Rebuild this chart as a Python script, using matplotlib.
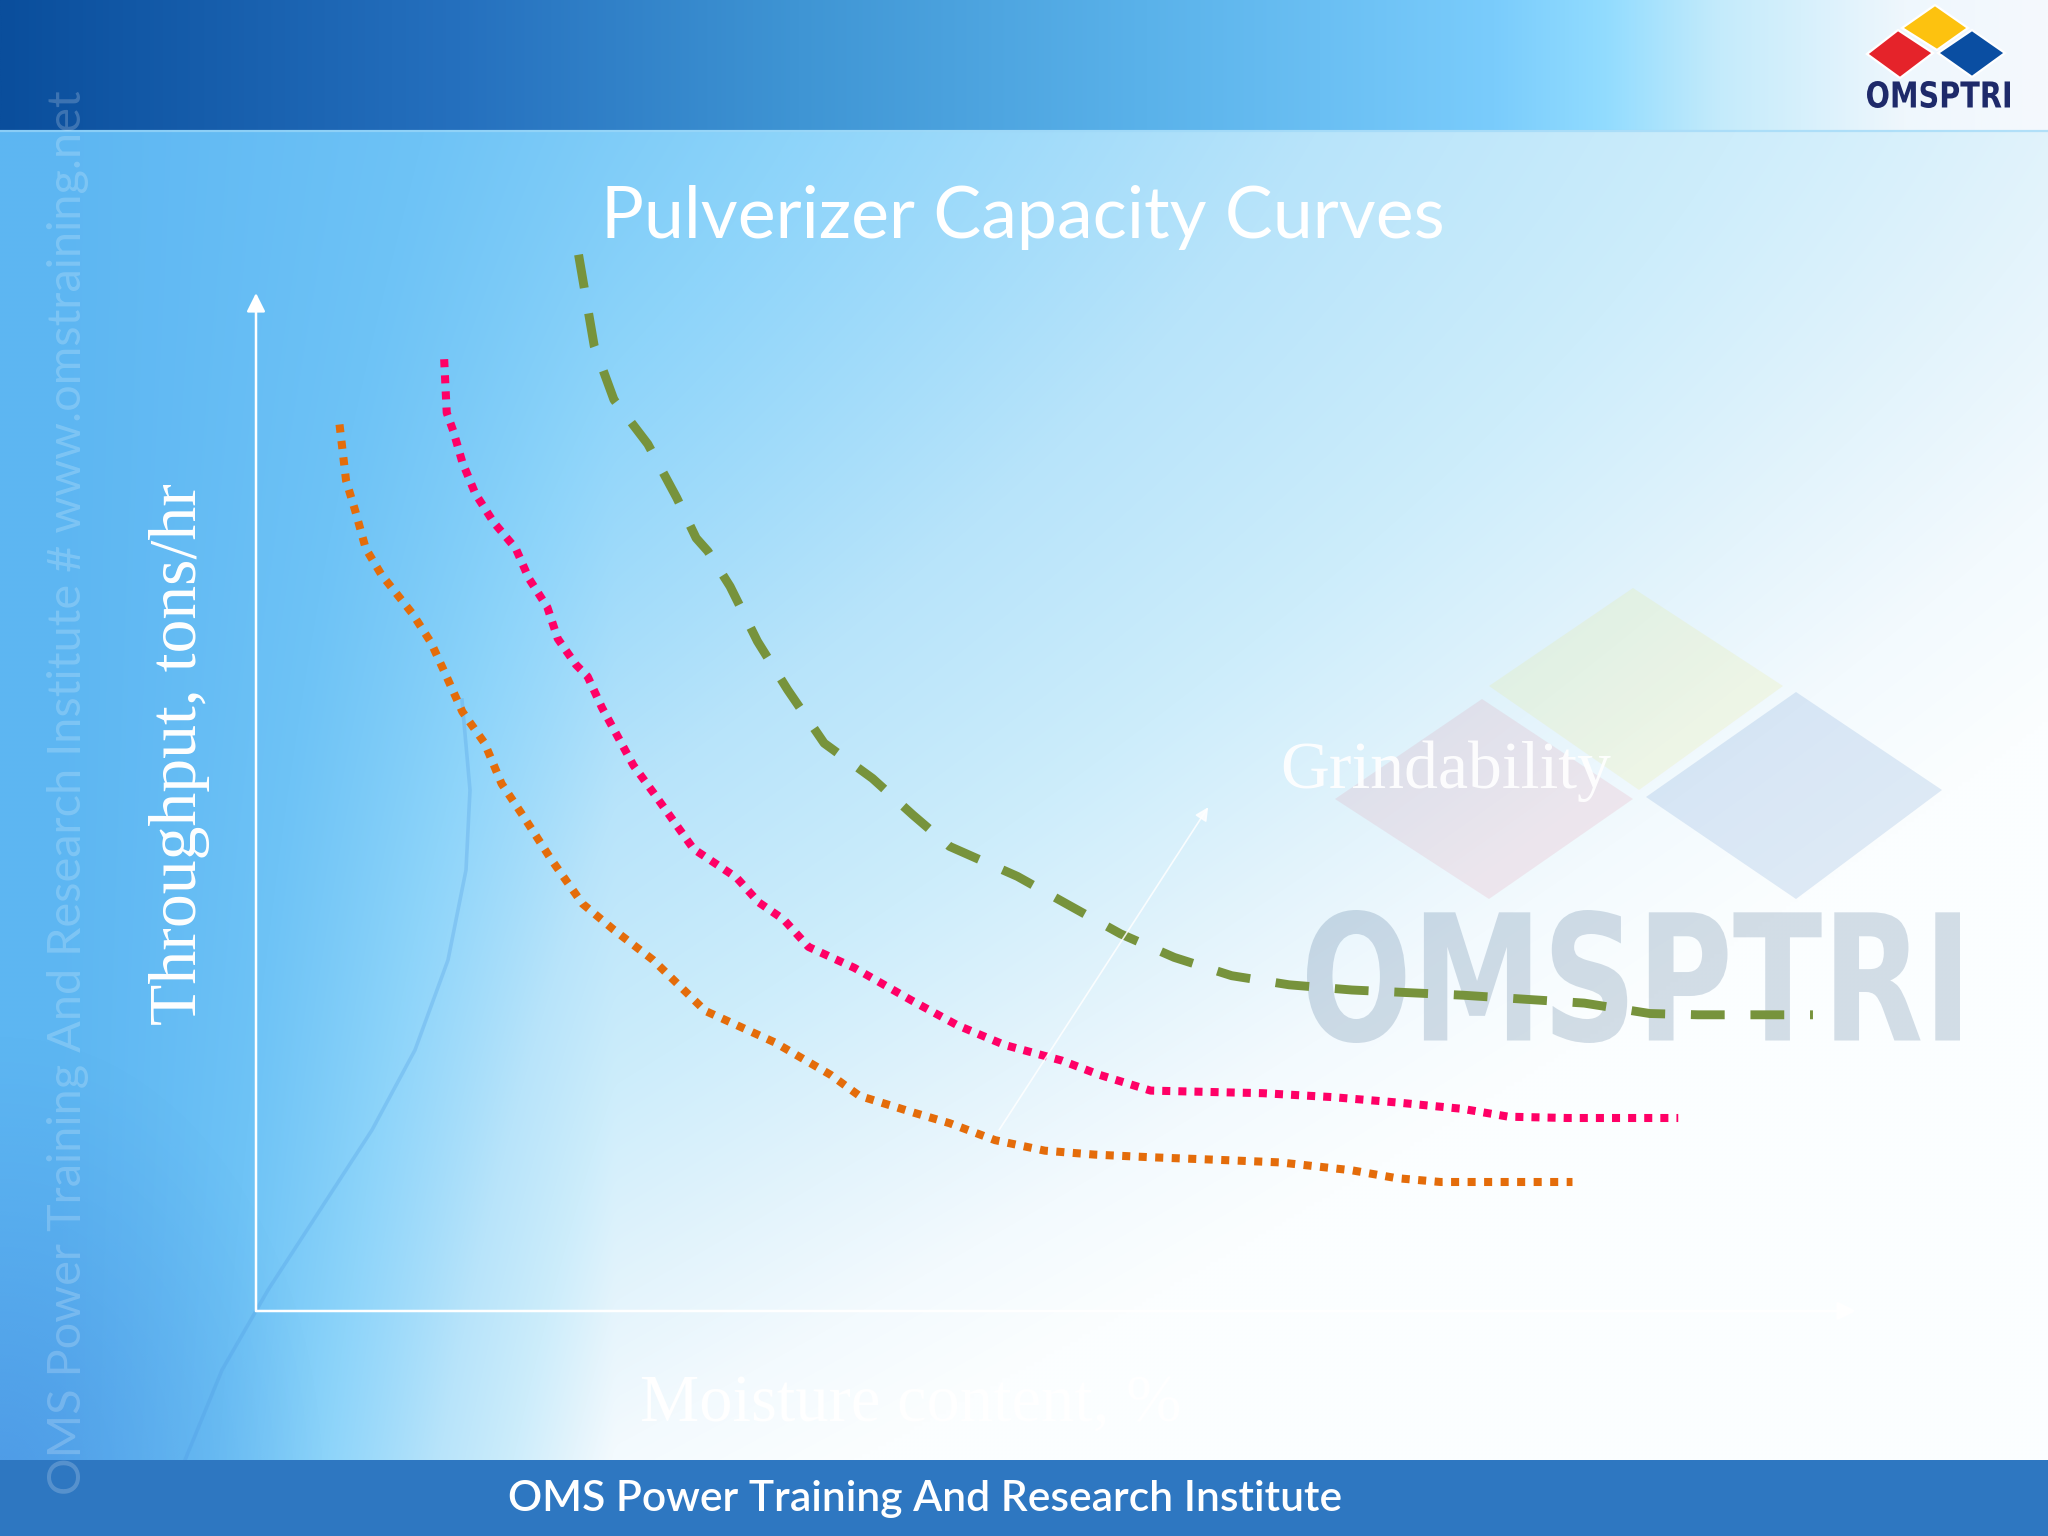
import numpy as np
import matplotlib
matplotlib.use("Agg")
import matplotlib.pyplot as plt
from matplotlib.textpath import TextPath
from matplotlib.patches import PathPatch, Rectangle, Polygon
from matplotlib.font_manager import FontProperties
import matplotlib.transforms as mtransforms
from matplotlib.colors import to_rgb

# ---------------- data (arbitrary units: moisture vs throughput) ----------------
title = "Pulverizer Capacity Curves"
x_label = "Moisture content, %"
y_label = "Throughput, tons/hr"
arrow_label = "Grindability"
footer = "OMS Power Training And Research Institute"
side_text = "OMS Power Training And Research Institute # www.omstraining.net"

low_x = [5.22, 5.63, 6.20, 6.86, 7.84, 9.79, 10.94, 11.76, 12.90, 14.29, 15.35, 16.82,
         18.45, 20.41, 22.37, 24.82, 28.08, 32.41, 35.92, 37.71, 41.14, 43.35, 46.20,
         49.31, 52.41, 55.84, 60.08, 64.00, 68.49, 71.26, 74.04, 77.88, 82.28]
low_y = [88.65, 83.04, 80.03, 76.24, 73.63, 69.71, 66.84, 63.97, 59.92, 56.78, 52.73, 49.21,
         45.16, 40.72, 38.11, 35.10, 30.01, 26.87, 23.61, 21.52, 19.82, 18.78, 17.08,
         16.03, 15.64, 15.38, 15.12, 14.86, 14.07, 13.29, 12.90, 12.90, 12.90]

mid_x = [11.76, 11.92, 12.33, 12.90, 13.71, 14.86, 16.24, 17.06, 18.21, 18.86, 20.00, 20.73,
         21.63, 22.61, 23.59, 24.90, 26.12, 27.35, 28.33, 30.04, 31.43, 32.98, 34.53,
         37.39, 40.98, 43.84, 46.78, 50.37, 52.73, 55.92, 62.94, 67.26, 71.26, 75.43,
         78.28, 81.96, 88.89]
mid_y = [95.18, 89.83, 88.00, 84.86, 81.73, 78.86, 76.24, 73.24, 70.37, 67.23, 64.62, 63.44,
         60.31, 57.44, 54.56, 51.69, 48.95, 46.20, 45.16, 43.33, 40.85, 39.15, 36.41,
         34.32, 31.05, 28.57, 26.61, 25.04, 23.61, 22.04, 21.78, 21.39, 20.86, 20.21,
         19.43, 19.30, 19.30]

high_x = [20.16, 21.14, 22.37, 24.49, 26.29, 27.51, 28.24, 29.63, 31.34, 33.22, 35.51, 38.53,
          41.06, 43.35, 47.59, 50.94, 54.04, 57.39, 60.98, 64.57, 68.49, 75.43, 83.02,
          87.10, 90.12, 97.31]
high_y = [105.63, 96.49, 91.13, 86.69, 81.34, 77.29, 75.98, 72.46, 66.97, 62.14, 56.78, 53.26,
          49.60, 46.46, 43.46, 40.46, 37.71, 35.36, 33.53, 32.62, 32.10, 31.58, 30.79,
          29.75, 29.62, 29.62]

arrow_from = (46.45, 18.12)
arrow_to = (59.51, 50.38)

W, H = 2048, 1536
fig = plt.figure(figsize=(10.24, 7.68), dpi=200)

# ---------------- background (pixel coordinate overlay) ----------------
bg = fig.add_axes([0, 0, 1, 1])
bg.set_xlim(0, W)
bg.set_ylim(H, 0)
bg.axis("off")


def grad(t, stops):
    pos = [s[0] for s in stops]
    cols = np.array([to_rgb(s[1]) for s in stops])
    return np.stack([np.interp(t, pos, cols[:, k]) for k in range(3)], axis=-1)


gh, gw = 384, 512
yy, xx = np.mgrid[0:gh, 0:gw]
xn = xx / (gw - 1)
yn = yy / (gh - 1)
t = np.clip(0.78 * xn + 0.75 * yn ** 1.5 * np.minimum(1, (xn / 0.3) ** 2) - 0.02, 0, 1)
body_stops = [(0, '#5DB6F2'), (0.15, '#6EC3F6'), (0.3, '#8DD4FA'), (0.5, '#B8E4FA'),
              (0.66, '#CDEDFB'), (0.8, '#E4F4FC'), (0.9, '#F3FAFE'), (1, '#FBFEFF')]
bg.imshow(grad(t, body_stops), extent=(0, W, H, 0), aspect="auto", interpolation="bilinear", zorder=0)

# soft darker corner at bottom-left
d = np.sqrt(((xn - 0.0) / 0.16) ** 2 + ((yn - 0.97) / 0.30) ** 2)
corner = np.zeros((gh, gw, 4))
corner[..., :3] = to_rgb('#3C7AD8')
corner[..., 3] = 0.45 * np.clip(1 - d, 0, 1) ** 1.2
bg.imshow(corner, extent=(0, W, H, 0), aspect="auto", interpolation="bilinear", zorder=1)

# swoosh line
sw = np.array([(462, 700), (470, 790), (466, 870), (448, 960), (415, 1050), (372, 1130),
               (320, 1210), (268, 1290), (222, 1370), (185, 1460)])
bg.plot(sw[:, 0], sw[:, 1], color='#4C98E2', alpha=0.28, lw=1.3, zorder=1,
        solid_joinstyle='round')

# header band
hx = np.linspace(0, 1, 600)[None, :]
head_stops = [(0, '#0A4E9C'), (0.224, '#2570BE'), (0.39, '#3F95D4'), (0.56, '#5AB2EA'),
              (0.73, '#7ACCFC'), (0.785, '#92DCFF'), (0.84, '#C4EBFB'), (0.88, '#D6F0FC'),
              (0.93, '#EFF7FD'), (1, '#F5F9FD')]
bg.imshow(grad(hx, head_stops), extent=(0, W, 130, 0), aspect="auto", interpolation="bilinear", zorder=2)
bg.plot([0, W], [131, 131], color='#9ED8F8', lw=0.8, alpha=0.7, zorder=2)

# footer band
bg.add_patch(Rectangle((0, 1460), W, 76, fc='#2E77C1', ec='none', zorder=2))


def text_in_box(ax, s, x0, y0, x1, y1, color, alpha, fp, z):
    tp = TextPath((0, 0), s, size=100, prop=fp)
    ext = tp.get_extents()
    sx = (x1 - x0) / ext.width
    sy = (y1 - y0) / ext.height
    tr = mtransforms.Affine2D().translate(-ext.x0, -ext.y0).scale(sx, -sy).translate(x0, y1)
    ax.add_patch(PathPatch(tr.transform_path(tp), fc=color, ec='none', alpha=alpha, zorder=z))


bold_fp = FontProperties(family='DejaVu Sans', weight='bold', stretch='condensed')

# faint watermark logo
bg.add_patch(Polygon([(1633, 588), (1489, 686), (1639, 790), (1783, 686)], fc='#E8E870', ec='none', alpha=0.16, zorder=1))
bg.add_patch(Polygon([(1482, 699), (1335, 799), (1489, 899), (1633, 799)], fc='#D83050', ec='none', alpha=0.09, zorder=1))
bg.add_patch(Polygon([(1796, 692), (1646, 797), (1796, 899), (1942, 790)], fc='#3070C0', ec='none', alpha=0.14, zorder=1))
text_in_box(bg, "OMSPTRI", 1307, 910, 1960, 1043, '#2F5A85', 0.20, bold_fp, 1)

# header logo
bg.add_patch(Polygon([(1935, 5), (1902, 28), (1937, 50), (1968, 28)], fc='#FDC20F', ec='white', lw=0.8, zorder=3))
bg.add_patch(Polygon([(1898, 30), (1867, 54), (1900, 78), (1933, 53)], fc='#E5232A', ec='white', lw=0.8, zorder=3))
bg.add_patch(Polygon([(1972, 30), (1938, 53), (1972, 77), (2005, 53)], fc='#0A4EA2', ec='white', lw=0.8, zorder=3))
text_in_box(bg, "OMSPTRI", 1867, 81, 2010, 108, '#1E2A6A', 1.0, bold_fp, 3)

# side watermark text
side = bg.text(68, 793, side_text, rotation=90, ha='center', va='center', color='white',
               alpha=0.2, family='Lato', fontsize=20, zorder=3)
# title and footer
ttl = bg.text(1023, 238, title, ha='center', va='baseline', color='white', family='Lato',
              fontsize=30, zorder=4)
ftr = bg.text(925, 1499, footer, ha='center', va='center', color='white', family='Lato',
              weight='semibold', fontsize=14, zorder=4)

# ---------------- chart axes ----------------
ax = fig.add_axes([256 / W, (H - 1311) / H, 1600 / W, 1018 / H])
ax.set_xlim(0, 100)
ax.set_ylim(0, 101.8)
ax.axis("off")
ax.patch.set_alpha(0)

ax.annotate('', xy=(0, 101.8), xytext=(0, 0),
            arrowprops=dict(arrowstyle='-|>', color='white', lw=0.9, mutation_scale=14,
                            shrinkA=0, shrinkB=0), annotation_clip=False)
ax.annotate('', xy=(100, 0), xytext=(0, 0),
            arrowprops=dict(arrowstyle='-|>', color='white', lw=0.9, mutation_scale=14,
                            shrinkA=0, shrinkB=0), annotation_clip=False)

ax.plot(low_x, low_y, color='#E46C0A', lw=2.9, linestyle=(0, (1, 1.05)), clip_on=False)
ax.plot(mid_x, mid_y, color='#FF0066', lw=2.9, linestyle=(0, (1, 1.0)), clip_on=False)
ax.plot(high_x, high_y, color='#77933C', lw=3.2, linestyle=(0, (3.8, 2.9)), clip_on=False)

ax.annotate('', xy=arrow_to, xytext=arrow_from,
            arrowprops=dict(arrowstyle='-|>', color='white', lw=0.6, alpha=0.85,
                            mutation_scale=10, shrinkA=0, shrinkB=0))

gr = ax.text(64.0, 52.3, arrow_label, ha='left', va='baseline', color='white', alpha=0.92,
             family='Liberation Serif', fontsize=24.4)
yl = ax.text(-4.8, 55.7, y_label, rotation=90, ha='center', va='center', color='white',
             family='Liberation Serif', fontsize=24.4, clip_on=False)
xl = ax.text(40.9, -9.3, x_label, ha='center', va='center', color='white',
             family='Liberation Serif', fontsize=24.4, clip_on=False)

# fit text sizes to the reference extents
r = fig.canvas.get_renderer()


def fit(tobj, target, use_height=False):
    ext = tobj.get_window_extent(r)
    cur = ext.height if use_height else ext.width
    tobj.set_fontsize(tobj.get_fontsize() * target / cur)


fit(ttl, 845)
fit(ftr, 832)
fit(side, 1404, use_height=True)
fit(gr, 331)
fit(yl, 542, use_height=True)
fit(xl, 542)

fig.savefig("out.png", dpi=200)
